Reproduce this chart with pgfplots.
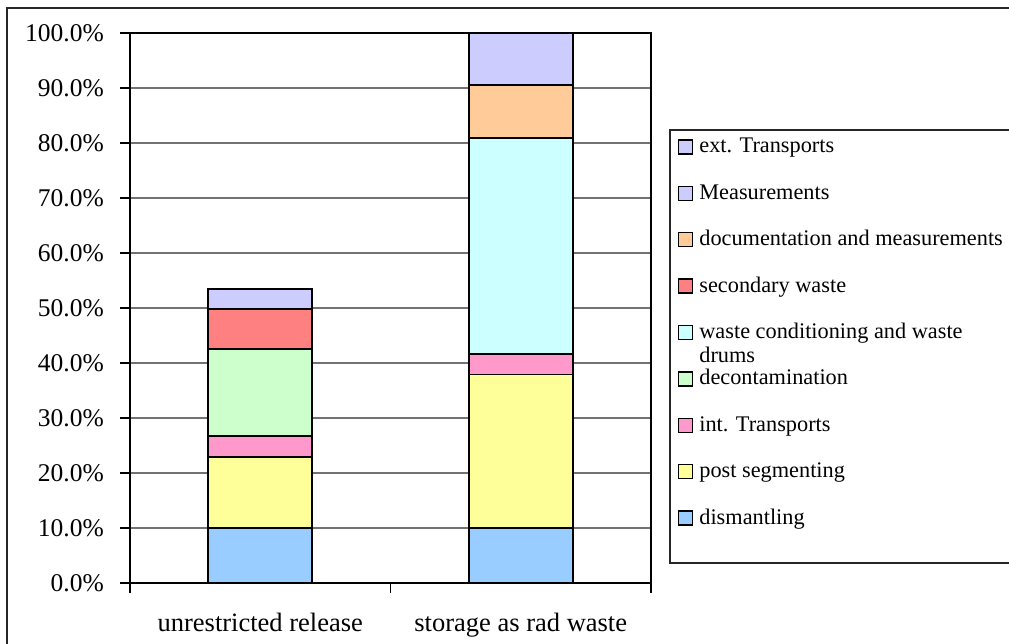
\documentclass[border=0pt]{standalone}
\usepackage{fontspec}
\setmainfont{Liberation Serif}
\usepackage{pgfplots}
\pgfplotsset{compat=1.18}

\definecolor{cDism}{HTML}{99CCFF}
\definecolor{cPost}{HTML}{FFFF99}
\definecolor{cInt}{HTML}{FF99CC}
\definecolor{cDecon}{HTML}{CCFFCC}
\definecolor{cCond}{HTML}{CCFFFF}
\definecolor{cSec}{HTML}{FF8080}
\definecolor{cDoc}{HTML}{FFCC99}
\definecolor{cMeas}{HTML}{CCCCFF}
\definecolor{cExt}{HTML}{CCCCFF}

\pgfplotsset{bars/.style={fill=#1, draw=black, line width=1.9pt}}

\begin{document}
\begin{tikzpicture}
\useasboundingbox (0,0) rectangle (1009pt,644pt);
% chart frame (cut by the page edge)
\draw[line width=1.2pt, black!85] (7pt,-30pt) -- (7pt,636pt) -- (1040pt,636pt);
% legend frame
\draw[line width=1.3pt, black!85, fill=white] (670pt,514pt) rectangle (1040pt,81pt);

\begin{axis}[
  at={(130pt,61pt)}, anchor=south west,
  width=521pt, height=550pt, scale only axis,
  ybar stacked, bar width=0.4,
  xmin=-0.5, xmax=1.5, ymin=0, ymax=100,
  axis line style={black, line width=1.5pt},
  xtick={0,1},
  xticklabels={unrestricted release, storage as rad waste},
  minor xtick={-0.5,0.5,1.5},
  major x tick style={draw=none},
  minor x tick style={black, line width=1.1pt},
  minor tick length=10pt,
  ytick={0,10,...,100},
  major tick length=10pt,
  ytick style={black, line width=1.1pt},
  tick align=outside,
  xtick pos=bottom, ytick pos=left,
  ymajorgrids,
  major grid style={black!55, line width=1.1pt},
  yticklabel={\pgfmathprintnumber[fixed,fixed zerofill,precision=1,assume math mode=true]{\tick}\%},
  yticklabel style={font=\fontsize{25.5}{30}\selectfont, inner xsep=0pt, xshift=-16pt},
  xticklabel style={font=\fontsize{26.5}{31}\selectfont, anchor=base, yshift=-39pt},
  reverse legend,
  legend cell align=left,
  legend image code/.code={\draw[#1, line width=1.4pt] (0pt,-1pt) rectangle (14pt,13pt);},
  legend style={draw=none, fill=none, inner sep=0pt, outer sep=0pt,
    at={(1.0518,0.8182)}, anchor=north west,
    font=\fontsize{22.3}{24}\selectfont,
    row sep=0pt,
    nodes={inner sep=0pt, anchor=base west, text height=20pt, text depth=26.4pt},
    /tikz/every odd column/.append style={column sep=6pt}},
]
\addplot[bars=cDism] coordinates {(0,10.0) (1,10.0)};
\addlegendentry{dismantling}
\addplot[bars=cPost] coordinates {(0,12.9) (1,27.9)};
\addlegendentry{post segmenting}
\addplot[bars=cInt] coordinates {(0,3.9) (1,3.8)};
\addlegendentry{int. Transports}
\addplot[bars=cDecon] coordinates {(0,15.8) (1,0)};
\addlegendentry{decontamination}
\addplot[bars=cCond] coordinates {(0,0) (1,39.2)};
\addlegendentry{\smash{\parbox[t]{300pt}{waste conditioning and waste\\drums}}}
\addplot[bars=cSec] coordinates {(0,7.2) (1,0)};
\addlegendentry{secondary waste}
\addplot[bars=cDoc] coordinates {(0,0) (1,9.6)};
\addlegendentry{documentation and measurements}
\addplot[bars=cMeas] coordinates {(0,0) (1,9.5)};
\addlegendentry{Measurements}
\addplot[bars=cExt] coordinates {(0,3.6) (1,0)};
\addlegendentry{ext. Transports}
\end{axis}
\end{tikzpicture}
\end{document}
